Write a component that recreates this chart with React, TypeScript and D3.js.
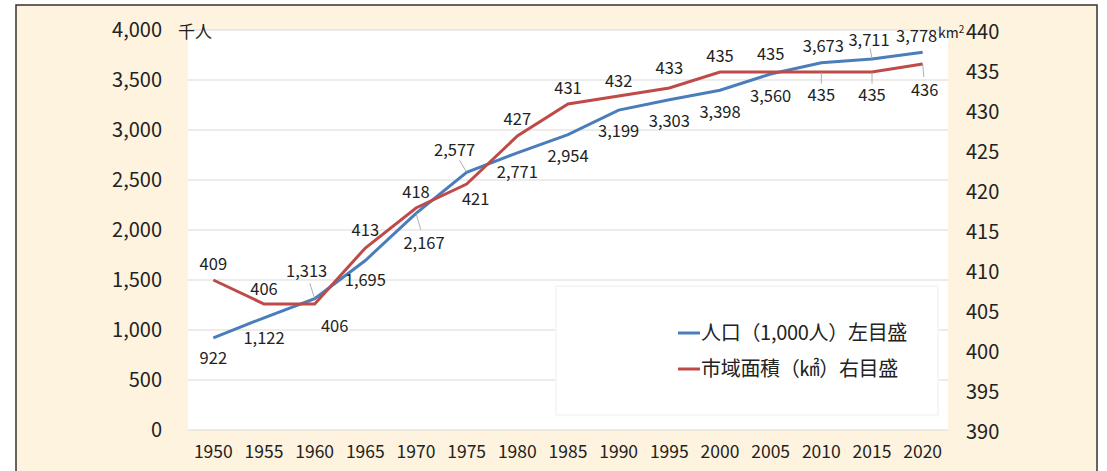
import React from 'react';
import * as d3 from 'd3';

const years = ['1950', '1955', '1960', '1965', '1970', '1975', '1980', '1985', '1990', '1995', '2000', '2005', '2010', '2015', '2020'];
const population = [922, 1122, 1313, 1695, 2167, 2577, 2771, 2954, 3199, 3303, 3398, 3560, 3673, 3711, 3778];
const cityArea = [409, 406, 406, 413, 418, 421, 427, 431, 432, 433, 435, 435, 435, 435, 436];
const leftTicks = [0, 500, 1000, 1500, 2000, 2500, 3000, 3500, 4000];
const rightTicks = [390, 395, 400, 405, 410, 415, 420, 425, 430, 435, 440];

// label offsets (dx, dy) relative to each point, and whether to draw a leader line
const popLabelPos: [number, number, boolean][] = [
	[0, 20, false], [0, 20, false], [-8, -28, true], [0, 20, false], [8, 30, true],
	[-12, -22, true], [0, 19, false], [0, 21, false], [0, 21, false], [0, 21, false],
	[0, 22, false], [0, 22, false], [2, -17, false], [-3, -19, true], [-6, -16, false],
];
const areaLabelPos: [number, number, boolean][] = [
	[0, -16, false], [0, -15, false], [20, 22, false], [0, -18, false], [0, -16, false],
	[9, 15, false], [0, -17, false], [0, -16, false], [0, -15, false], [0, -20, false],
	[0, -16, false], [0, -18, false], [0, 23, true], [0, 23, true], [2, 26, true],
];

const BLUE = '#4a7ebb';
const RED = '#be4b48';
const FONT = '"Noto Sans CJK JP", "Noto Sans", sans-serif';

const App = () => {
	const left = 188, right = 948, top = 30, bottom = 430;

	const x = d3.scaleBand<string>().domain(years).range([left, right]);
	const cx = (y: string) => (x(y) as number) + x.bandwidth() / 2;
	const yL = d3.scaleLinear().domain([0, 4000]).range([bottom, top]);
	const yR = d3.scaleLinear().domain([390, 440]).range([bottom + 2, top + 2]);

	const popLine = d3.line<number>().x((d, i) => cx(years[i])).y((d) => yL(d));
	const areaLine = d3.line<number>().x((d, i) => cx(years[i])).y((d) => yR(d));
	const fmt = d3.format(',');

	return (
		<svg width={1107} height={471} style={{ position: 'absolute', left: 0, top: 0 }} fontFamily={FONT}>
			<rect x={16} y={5} width={1081} height={480} fill="#fef3de" stroke="#333" strokeWidth={1.5} />
			<rect x={left} y={top} width={right - left} height={bottom - top} fill="#fff" />
			{leftTicks.map((t) => (
				<line key={t} x1={left} x2={right} y1={yL(t)} y2={yL(t)} stroke="#dadada" strokeWidth={1.2} />
			))}
			{leftTicks.map((t) => (
				<text key={t} x={162} y={yL(t)} dy="0.36em" textAnchor="end" fontSize={20} fill="#222">
					{fmt(t)}
				</text>
			))}
			{rightTicks.map((t) => (
				<text key={t} x={966} y={yR(t)} dy="0.36em" textAnchor="start" fontSize={20} fill="#222">
					{t}
				</text>
			))}
			{years.map((y) => (
				<text key={y} x={cx(y)} y={458} textAnchor="middle" fontSize={17.5} fill="#222">
					{y}
				</text>
			))}
			<text x={178} y={38} fontSize={17} fill="#222">千人</text>
			<text x={938} y={38} fontSize={14} fill="#222">
				km<tspan fontSize={10} dy={-5}>2</tspan>
			</text>

			{/* legend */}
			<rect x={556} y={286} width={382} height={129} fill="#fff" stroke="#f6f6f6" strokeWidth={2} />
			<line x1={678} x2={700} y1={333} y2={333} stroke={BLUE} strokeWidth={3} />
			<text x={701} y={333} dy="0.36em" fontSize={20} fill="#222" letterSpacing={-0.3}>人口（1,000人）左目盛</text>
			<line x1={678} x2={700} y1={369} y2={369} stroke={RED} strokeWidth={3} />
			<text x={701} y={369} dy="0.36em" fontSize={20} fill="#222" letterSpacing={-0.3}>市域面積（㎢）右目盛</text>

			<path d={popLine(population) || ''} fill="none" stroke={BLUE} strokeWidth={3} />
			<path d={areaLine(cityArea) || ''} fill="none" stroke={RED} strokeWidth={3} />

			{population.map((v, i) => {
				const px = cx(years[i]), py = yL(v);
				const [dx, dy, lead] = popLabelPos[i];
				return (
					<g key={'p' + i}>
						{lead && (
							<line x1={px + dx * 0.6} y1={py + dy * 0.55} x2={px} y2={py} stroke="#999" strokeWidth={0.8} />
						)}
						<text x={px + dx} y={py + dy} dy="0.36em" textAnchor="middle" fontSize={16.5} fill="#222">
							{fmt(v)}
						</text>
					</g>
				);
			})}
			{cityArea.map((v, i) => {
				const px = cx(years[i]), py = yR(v);
				const [dx, dy, lead] = areaLabelPos[i];
				return (
					<g key={'a' + i}>
						{lead && (
							<line x1={px + dx * 0.6} y1={py + dy * 0.5} x2={px} y2={py} stroke="#999" strokeWidth={0.8} />
						)}
						<text x={px + dx} y={py + dy} dy="0.36em" textAnchor="middle" fontSize={16.5} fill="#222">
							{v}
						</text>
					</g>
				);
			})}
		</svg>
	);
};

export default App;
